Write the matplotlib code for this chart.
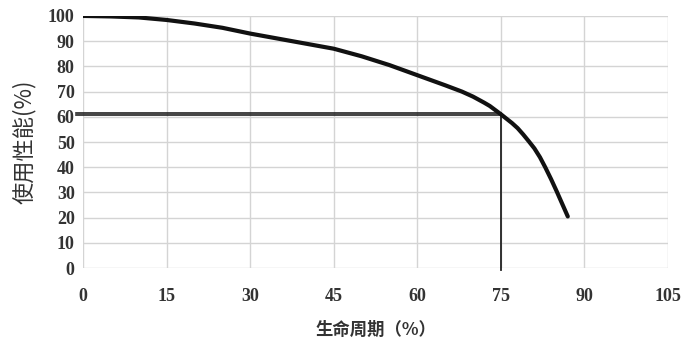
# 使用性能 vs 生命周期 曲线图
import numpy as np
import matplotlib.pyplot as plt

# 数据
ciclo = [0, 5, 10, 15, 20, 25, 30, 35, 40, 45, 50, 55, 60, 65, 68, 70, 72, 73, 75, 77, 78, 79, 80, 81, 82, 83, 84, 85, 86, 87]
rendimiento = [100, 99.8, 99.4, 98.4, 97, 95.3, 93, 91, 89, 87, 84, 80.5, 76.5, 72.5, 70, 68, 65.6, 64.3, 61, 57.5, 55.5, 53, 50.3, 47.5, 44, 39.8, 35.3, 30.5, 25.5, 20.5]
x_ticks = [0, 15, 30, 45, 60, 75, 90, 105]
y_ticks = [0, 10, 20, 30, 40, 50, 60, 70, 80, 90, 100]
punto_x = 75
punto_y = 61

fig = plt.figure(figsize=(6.81, 3.39), dpi=100)
ax = fig.add_axes([0.122, 0.209, 0.859, 0.744])

# 网格
for xv in x_ticks:
    ax.axvline(xv, color='#d4d4d4', lw=1, zorder=0)
for yv in y_ticks:
    ax.axhline(yv, color='#d4d4d4', lw=1, zorder=0)

# 曲线
ax.plot(ciclo, rendimiento, color='#111111', lw=3, solid_capstyle='round',
        solid_joinstyle='round', zorder=3)

# 参考线
ax.plot([-1.2, punto_x], [punto_y - 0.35, punto_y - 0.35], color='#222222', lw=1.2, zorder=2, clip_on=False)
ax.plot([-1.2, punto_x], [punto_y + 0.35, punto_y + 0.35], color='#222222', lw=1.2, zorder=2, clip_on=False)
ax.plot([punto_x, punto_x], [-0.8, punto_y], color='#222222', lw=1.3, zorder=2, clip_on=False)

ax.set_xlim(0, 105)
ax.set_ylim(0, 100)
ax.set_xticks(x_ticks)
ax.set_yticks(y_ticks)
for s in ax.spines.values():
    s.set_visible(False)
ax.tick_params(length=0, labelsize=13, colors='#333333')
ax.tick_params(axis='x', pad=14)
ax.tick_params(axis='y', pad=6)
for lab in ax.get_xticklabels() + ax.get_yticklabels():
    lab.set_family('Liberation Serif')
    lab.set_fontweight('bold')

ax.set_xlabel('生命周期（%）', family=['Noto Sans CJK SC', 'DejaVu Sans'], fontsize=12.5,
              fontweight='bold', color='#333333', labelpad=12)
ax.set_ylabel('使用性能(%)', family=['Noto Sans CJK SC', 'DejaVu Sans'], fontsize=16,
              color='#333333', labelpad=9)

fig.savefig('out.png', dpi=100, facecolor='white')
